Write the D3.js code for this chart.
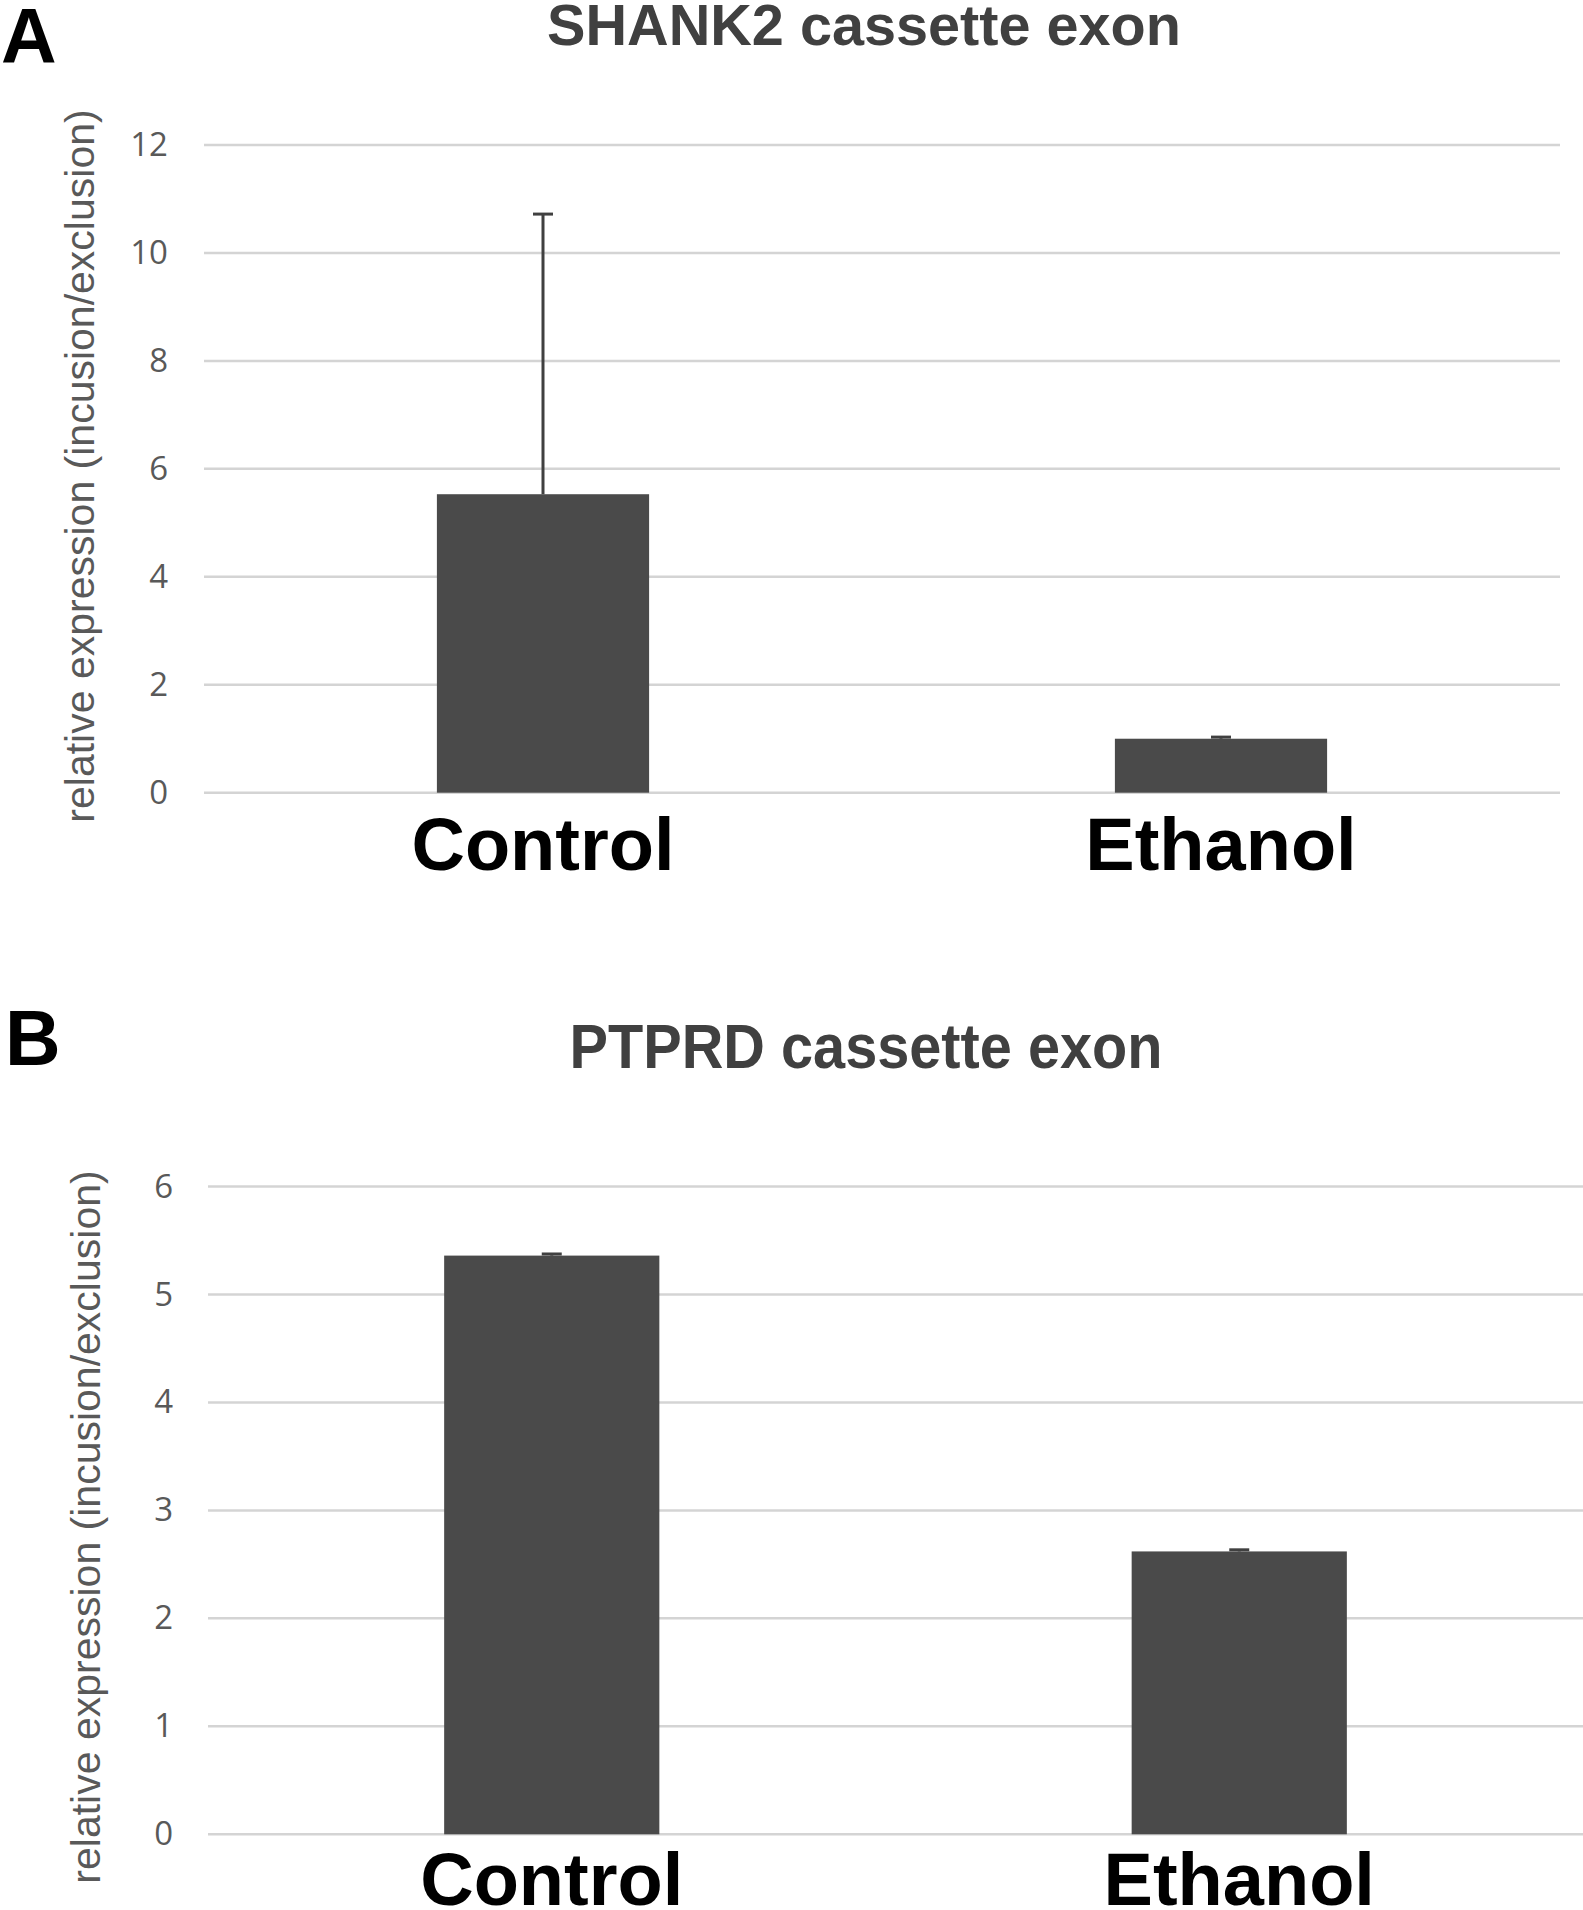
<!DOCTYPE html>
<html>
<head>
<meta charset="utf-8">
<script src="https://cdn.jsdelivr.net/npm/d3@7"></script>
<style>
  html, body { margin: 0; padding: 0; background: #ffffff; }
  svg { display: block; }
</style>
</head>
<body>
<svg id="chart" width="1583" height="1910"></svg>
<script>
// ---- data ----
const categories = ["Control", "Ethanol"];
const shank2Values = [5.53, 1.0];
const shank2Errors = [5.19, 0.03];
const ptprdValues = [5.36, 2.62];
const ptprdErrors = [0.015, 0.015];
const shank2Ticks = [0, 2, 4, 6, 8, 10, 12];
const ptprdTicks = [0, 1, 2, 3, 4, 5, 6];
const panelLetters = ["A", "B"];
const panelTitles = ["SHANK2 cassette exon", "PTPRD cassette exon"];
const yAxisTitle = "relative expression (incusion/exclusion)";

const svg = d3.select("#chart");

const panels = [
  {
    letter: panelLetters[0], title: panelTitles[0], values: shank2Values, errors: shank2Errors,
    ticks: shank2Ticks, yMax: 12,
    x0: 204, x1: 1560, yBottom: 792.7, yTop: 145,
    letterX: 1, letterY: 63, titleX: 864, titleY: 45, titleSize: 58, titleLen: 634,
    axisTitleX: 94, axisTitleY: 466, tickRight: 168, catY: 870
  },
  {
    letter: panelLetters[1], title: panelTitles[1], values: ptprdValues, errors: ptprdErrors,
    ticks: ptprdTicks, yMax: 6,
    x0: 208, x1: 1583, yBottom: 1834.3, yTop: 1186.5,
    letterX: 5, letterY: 1065, titleX: 866, titleY: 1068, titleSize: 63, titleLen: 593,
    axisTitleX: 100, axisTitleY: 1527, tickRight: 173, catY: 1905
  }
];

panels.forEach(p => {
  const g = svg.append("g");
  const y = d3.scaleLinear().domain([0, p.yMax]).range([p.yBottom, p.yTop]);
  const x = d3.scaleBand().domain(categories).range([p.x0, p.x1])
    .paddingInner(0.687).paddingOuter(0.3435);

  // panel letter
  g.append("text")
    .attr("x", p.letterX).attr("y", p.letterY)
    .attr("font-family", "Liberation Sans, Arial, sans-serif")
    .attr("font-weight", "bold").attr("font-size", 77)
    .attr("fill", "#000").text(p.letter);

  // title
  g.append("text")
    .attr("x", p.titleX).attr("y", p.titleY)
    .attr("text-anchor", "middle")
    .attr("font-family", "Liberation Sans, Arial, sans-serif")
    .attr("font-weight", "bold").attr("font-size", p.titleSize)
    .attr("textLength", p.titleLen).attr("lengthAdjust", "spacingAndGlyphs")
    .attr("fill", "#404040").text(p.title);

  // gridlines
  g.append("g").selectAll("line").data(p.ticks).join("line")
    .attr("x1", p.x0).attr("x2", p.x1)
    .attr("y1", d => y(d)).attr("y2", d => y(d))
    .attr("stroke", "#d4d4d4").attr("stroke-width", 2.5);

  // y axis tick labels
  const axis = d3.axisLeft(y).tickValues(p.ticks).tickSize(0).tickPadding(0)
    .tickFormat(d3.format("d"));
  const ag = g.append("g").attr("transform", `translate(${p.tickRight},0)`).call(axis);
  ag.select(".domain").remove();
  ag.selectAll("text")
    .attr("font-family", "Open Sans, sans-serif")
    .attr("font-size", 33)
    .attr("fill", "#595959");

  // y axis title
  g.append("text")
    .attr("transform", `translate(${p.axisTitleX},${p.axisTitleY}) rotate(-90)`)
    .attr("text-anchor", "middle")
    .attr("font-family", "Liberation Sans, Arial, sans-serif")
    .attr("font-size", 41)
    .attr("fill", "#595959").text(yAxisTitle);

  // bars
  g.append("g").selectAll("rect").data(categories).join("rect")
    .attr("x", d => x(d)).attr("width", x.bandwidth())
    .attr("y", (d, i) => y(p.values[i]))
    .attr("height", (d, i) => y(0) - y(p.values[i]))
    .attr("fill", "#4a4a4a");

  // error bars
  const eg = g.append("g").attr("stroke", "#404040").attr("stroke-width", 3);
  categories.forEach((c, i) => {
    const cx = x(c) + x.bandwidth() / 2;
    const top = y(p.values[i] + p.errors[i]);
    eg.append("line").attr("x1", cx).attr("x2", cx)
      .attr("y1", y(p.values[i])).attr("y2", top);
    eg.append("line").attr("x1", cx - 10).attr("x2", cx + 10)
      .attr("y1", top).attr("y2", top);
  });

  // category labels
  g.append("g").selectAll("text").data(categories).join("text")
    .attr("x", d => x(d) + x.bandwidth() / 2)
    .attr("y", p.catY)
    .attr("text-anchor", "middle")
    .attr("font-family", "Liberation Sans, Arial, sans-serif")
    .attr("font-weight", "bold").attr("font-size", 74)
    .attr("fill", "#000").text(d => d);
});
</script>
</body>
</html>
